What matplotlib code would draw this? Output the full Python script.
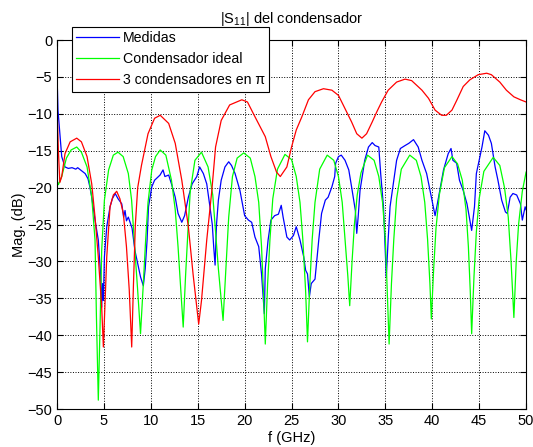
import numpy as np
import matplotlib
matplotlib.use('Agg')  # no display
import matplotlib.pyplot as plt

plt.rcParams['font.family'] = ['Liberation Sans', 'DejaVu Sans']
plt.rcParams['mathtext.fontset'] = 'custom'
plt.rcParams['mathtext.rm'] = 'Liberation Sans'

f_med = [0.0, 0.05, 0.1, 0.3, 0.5, 0.85, 1.2, 1.6, 2.0, 2.2, 2.5, 3.0, 3.3, 3.5,
         3.7, 4.05, 4.4, 4.55, 4.65, 4.76, 4.85, 4.94, 5.05, 5.3, 5.65, 5.9,
         6.2, 6.5, 6.9, 7.1, 7.25, 7.4, 7.6, 8.0, 8.3, 8.6, 8.9, 9.2, 9.4,
         9.6, 9.75, 10.1, 10.4, 10.98, 11.3, 11.5, 11.9, 12.2, 12.6, 12.9,
         13.3, 13.6, 14.0, 14.4, 14.9, 15.2, 15.6, 15.96, 16.3, 16.55, 16.7,
         16.85, 17.0, 17.2, 17.5, 17.9, 18.3, 18.6, 18.98, 19.5, 20.0, 20.4,
         20.75, 21.1, 21.5, 21.8, 22.1, 22.2, 22.5, 22.8, 23.2, 23.6, 23.9,
         24.1, 24.5, 24.8, 25.2, 25.5, 25.9, 26.3, 26.5, 26.7, 26.9, 27.1,
         27.5, 27.9, 28.2, 28.6, 28.9, 29.3, 29.6, 29.7, 30.0, 30.3, 30.7,
         31.1, 31.4, 31.8, 31.95, 32.1, 32.3, 32.8, 33.2, 33.6, 33.9, 34.3,
         34.5, 34.8, 34.97, 35.1, 35.3, 35.5, 35.9, 36.2, 36.6, 37.1, 37.5,
         38.0, 38.5, 38.9, 39.4, 39.9, 40.3, 40.5, 40.8, 41.2, 41.7, 42.0,
         42.2, 42.6, 42.9, 43.3, 43.7, 44.0, 44.2, 44.5, 44.7, 45.3, 45.6,
         45.99, 46.3, 46.7, 47.0, 47.4, 47.8, 48.0, 48.3, 48.6, 49.0, 49.4,
         49.6, 49.9, 50.0]
s_med = [-5.0, -7.0, -9.5, -12.6, -15.8, -17.2, -17.4, -17.3, -17.5, -17.3,
         -17.6, -18.1, -18.8, -19.9, -21.3, -24.4, -27.1, -30.0, -31.7, -36.2,
         -33.0, -35.3, -29.4, -25.3, -22.6, -21.5, -20.8, -21.5, -22.2, -24.0,
         -23.1, -24.5, -24.0, -25.5, -28.5, -30.3, -32.1, -33.3, -31.0, -27.1,
         -22.6, -19.9, -19.0, -18.3, -17.6, -18.5, -18.3, -19.5, -21.3, -23.5,
         -24.7, -23.8, -21.3, -19.5, -18.5, -17.2, -18.1, -19.5, -22.6, -25.0,
         -28.0, -30.5, -25.0, -21.7, -19.0, -17.2, -16.5, -17.0, -18.1, -20.4,
         -23.8, -24.4, -24.7, -26.7, -28.0, -31.7, -37.1, -31.0, -27.1, -24.4,
         -23.8, -23.6, -22.4, -24.0, -26.7, -27.1, -26.5, -25.3, -27.1, -29.4,
         -31.2, -31.7, -34.8, -33.0, -32.4, -27.1, -23.5, -21.7, -21.3, -19.9,
         -18.5, -16.7, -15.8, -15.6, -16.3, -17.6, -19.9, -23.1, -26.2, -24.0,
         -20.4, -16.3, -14.5, -13.9, -14.3, -14.5, -18.1, -22.6, -28.0, -32.1,
         -27.0, -22.6, -19.0, -16.3, -14.7, -14.3, -14.0, -13.5, -14.5, -16.3,
         -18.1, -21.3, -23.8, -22.5, -20.4, -17.6, -15.4, -14.7, -16.3, -16.7,
         -19.0, -20.4, -22.2, -24.4, -25.8, -22.6, -18.1, -14.5, -12.3, -12.9,
         -14.0, -17.2, -19.0, -21.7, -23.3, -23.5, -21.3, -20.8, -21.0, -22.2,
         -24.4, -22.6, -23.0]

# Condensador ideal
f_ideal = [0.0, 0.15, 0.5, 1.0, 1.5, 2.1, 2.6, 3.2, 3.7, 4.05, 4.2, 4.4, 4.6,
           4.76, 5.05, 5.5, 6.0, 6.5, 7.05, 7.6, 7.95, 8.3, 8.6, 8.9, 9.2,
           9.45, 9.7, 10.1, 10.5, 11.0, 11.6, 12.2, 12.6, 12.9, 13.2, 13.45,
           13.7, 13.95, 14.2, 14.7, 15.4, 16.1, 16.6, 16.9, 17.2, 17.7, 18.0,
           18.3, 18.7, 19.2, 19.9, 20.6, 21.1, 21.5, 21.8, 22.0, 22.2, 22.45,
           22.7, 23.0, 23.5, 24.3, 25.0, 25.5, 25.9, 26.2, 26.5, 26.7, 26.95,
           27.2, 27.5, 28.0, 28.8, 29.5, 30.0, 30.4, 30.7, 31.0, 31.2, 31.45,
           31.7, 32.0, 32.4, 33.1, 33.8, 34.3, 34.7, 35.0, 35.2, 35.4, 35.65,
           35.9, 36.2, 36.7, 37.6, 38.3, 38.8, 39.2, 39.5, 39.75, 39.9, 40.15,
           40.4, 40.75, 41.3, 42.1, 42.7, 43.2, 43.6, 43.85, 44.05, 44.2,
           44.45, 44.7, 45.0, 45.5, 46.5, 47.2, 47.7, 48.1, 48.4, 48.7, 48.95,
           49.2, 49.6, 50.0]
s_ideal = [-19.0, -19.6, -18.5, -16.0, -14.9, -14.5, -15.2, -17.2, -21.3,
           -27.1, -37.5, -48.8, -38.0, -28.5, -21.7, -17.6, -15.6, -15.2,
           -15.8, -18.1, -21.7, -28.5, -34.0, -39.8, -33.0, -27.0, -22.0,
           -17.6, -15.8, -14.9, -15.6, -19.0, -23.0, -28.0, -34.0, -38.9,
           -32.0, -26.0, -20.5, -16.3, -15.2, -17.2, -21.0, -26.0, -31.0,
           -38.0, -31.0, -24.0, -18.5, -16.0, -15.3, -16.0, -18.5, -22.0,
           -28.0, -34.0, -41.2, -33.0, -27.0, -21.5, -17.5, -15.5, -16.2,
           -18.5, -22.0, -27.0, -34.0, -40.9, -33.0, -27.0, -22.0, -17.5,
           -15.6, -16.3, -18.5, -22.0, -27.0, -32.0, -36.0, -30.0, -25.0,
           -21.0, -18.0, -15.6, -16.3, -18.5, -22.0, -27.0, -34.0, -41.2,
           -33.0, -27.0, -21.5, -17.5, -15.6, -16.3, -18.5, -22.0, -27.0,
           -33.0, -37.8, -31.0, -25.5, -21.0, -17.3, -15.8, -16.8, -19.0,
           -23.0, -28.0, -34.0, -39.8, -32.0, -26.0, -21.5, -17.8, -15.9,
           -17.0, -20.0, -24.0, -30.0, -37.6, -30.0, -25.0, -20.5, -17.9]

# 3 condensadores en pi
f_pi = [0.0, 0.05, 0.14, 0.3, 0.5, 0.85, 1.4, 2.1, 2.6, 3.2, 3.7, 4.05, 4.4,
        4.76, 4.94, 5.1, 5.3, 5.65, 6.0, 6.36, 6.7, 7.07, 7.4, 7.7, 7.96,
        8.15, 8.35, 8.6, 9.0, 9.7, 10.4, 11.0, 11.9, 12.6, 13.3, 14.0, 14.5,
        15.1, 15.4, 15.96, 16.5, 16.9, 17.5, 18.4, 19.7, 20.3, 21.1, 22.2,
        22.8, 23.4, 23.8, 24.5, 25.0, 25.5, 26.1, 26.8, 27.5, 28.4, 29.3,
        30.0, 30.7, 31.4, 31.95, 32.5, 33.0, 33.6, 34.1, 34.6, 35.3, 36.2,
        37.1, 37.8, 38.9, 39.6, 40.3, 41.0, 41.5, 42.1, 42.6, 43.3, 44.0,
        44.9, 45.8, 46.3, 47.2, 47.9, 48.7, 49.4, 50.0]
s_pi = [-8.1, -11.0, -14.9, -19.3, -18.5, -15.4, -13.8, -13.3, -13.8, -15.8,
        -19.5, -24.0, -29.4, -36.2, -41.6, -36.2, -29.4, -22.6, -21.0, -20.5,
        -21.5, -23.5, -28.0, -33.9, -41.6, -33.0, -25.0, -20.0, -17.0, -12.7,
        -10.6, -10.2, -11.3, -14.0, -19.0, -25.3, -31.7, -38.5, -35.3, -27.1,
        -20.4, -14.5, -10.9, -8.8, -8.1, -8.4, -10.4, -13.1, -15.8, -17.9,
        -18.5, -17.2, -14.5, -12.2, -10.4, -8.1, -7.0, -6.6, -6.8, -7.5,
        -9.3, -11.1, -12.7, -13.3, -12.7, -11.1, -9.7, -8.4, -6.8, -5.7,
        -5.3, -5.5, -6.8, -7.9, -9.5, -10.2, -10.2, -9.5, -8.2, -6.3, -5.4,
        -4.7, -4.5, -4.7, -5.7, -6.8, -7.7, -8.1, -8.4]

x_ticks = np.arange(0, 51, 5)
y_ticks = np.arange(-50, 1, 5)

fig = plt.figure(figsize=(5.33, 4.47), dpi=100)
ax = fig.add_axes([0.107, 0.085, 0.880, 0.8255])

ax.plot(f_med, s_med, color='#0000ff', lw=0.9, label='Medidas')
ax.plot(f_ideal, s_ideal, color='#00ff00', lw=0.9, label='Condensador ideal')
ax.plot(f_pi, s_pi, color='#ff0000', lw=0.9, label='3 condensadores en π')

ax.set_xlim(0, 50)
ax.set_ylim(-50, 0)
ax.set_xticks(x_ticks)
ax.set_yticks(y_ticks)
ax.tick_params(direction='in', top=True, right=True, labelsize=10.5, length=4)
ax.grid(True, linestyle=':', color='black', linewidth=0.7)
for sp in ax.spines.values():
    sp.set_linewidth(0.8)

ax.set_xlabel('f (GHz)', fontsize=10.5, labelpad=2)
ax.set_ylabel('Mag. (dB)', fontsize=10.5, labelpad=1)
ax.set_title(r'|S$_{11}$| del condensador', fontsize=10.5, pad=12)

leg = ax.legend(loc='upper left', bbox_to_anchor=(72 / 533, 1 - 27 / 447),
                bbox_transform=fig.transFigure, borderaxespad=0,
                fancybox=False, framealpha=1, edgecolor='black',
                fontsize=10.2, handlelength=3.0, handletextpad=0.3,
                labelspacing=0.5, borderpad=0.3)
leg.get_frame().set_linewidth(0.8)

fig.savefig('out.png', dpi=100)
